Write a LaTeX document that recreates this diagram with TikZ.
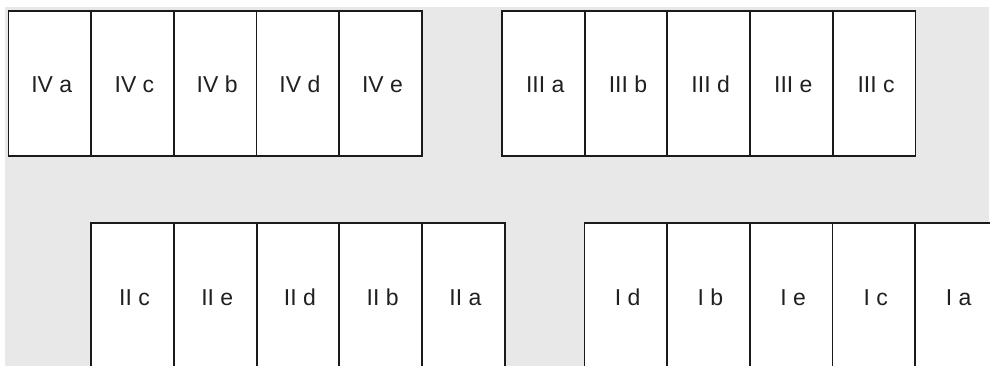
\documentclass[tikz,border=0pt]{standalone}
\usepackage{fontspec}
\setmainfont{Liberation Sans}
\definecolor{bggray}{HTML}{E8E8E8}
\definecolor{edge}{HTML}{1A1A1A}
\definecolor{txt}{HTML}{202020}
\tikzset{
  plot/.style={draw=edge, line width=1.8pt, fill=white, rectangle,
    minimum width=82.7pt, minimum height=144.5pt, inner sep=0pt, anchor=north west},
  lowplot/.style={plot, minimum height=144.3pt},
  plotlabel/.style={font=\fontsize{23}{26}\selectfont, text=txt, inner sep=0pt}
}
\begin{document}
\begin{tikzpicture}[x=1pt,y=-1pt]
\useasboundingbox (0,0) rectangle (990,366);
\clip (0,0) rectangle (990,366);
\fill[bggray] (5,7) rectangle (989,370);
% top left block IV
\foreach \t [count=\i from 0] in {IV a,IV c,IV b,IV d,IV e}{
  \node[plot, label={[plotlabel, xshift=2pt, yshift=-1pt]center:\t}] (top4\i) at (7.5+82.7*\i,10.5) {};
}
% top right block III
\foreach \t [count=\i from 0] in {III a,III b,III d,III e,III c}{
  \node[plot, label={[plotlabel, xshift=2pt, yshift=-1pt]center:\t}] (top3\i) at (501+82.7*\i,10.5) {};
}
% bottom left block II
\foreach \t [count=\i from 0] in {II c,II e,II d,II b,II a}{
  \node[lowplot, label={[plotlabel, xshift=2pt, yshift=-3pt]center:\t}] (bot2\i) at (90.3+82.7*\i,221.7) {};
}
% bottom right block I
\foreach \t [count=\i from 0] in {I d,I b,I e,I c,I a}{
  \node[lowplot, label={[plotlabel, xshift=2pt, yshift=-3pt]center:\t}] (bot1\i) at (583.5+82.7*\i,221.7) {};
}
\end{tikzpicture}
\end{document}
